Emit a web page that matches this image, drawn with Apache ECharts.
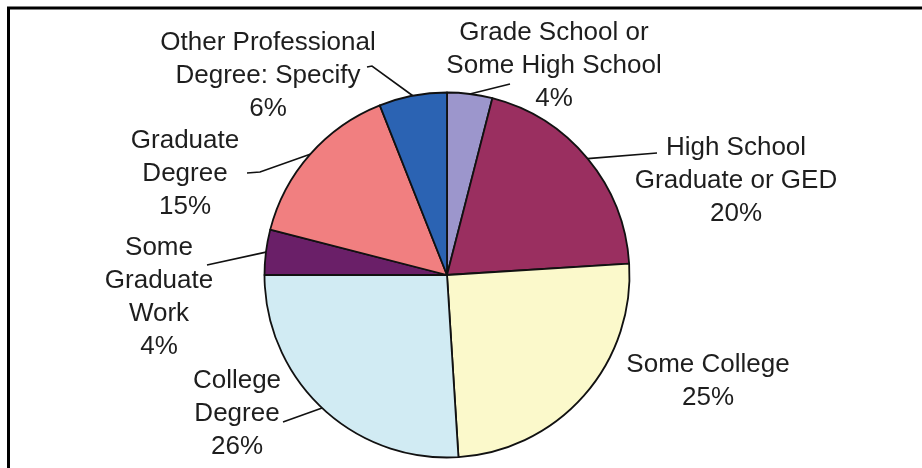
<!DOCTYPE html>
<html>
<head>
<meta charset="utf-8">
<script src="https://cdn.jsdelivr.net/npm/echarts@6/dist/echarts.min.js"></script>
<style>
  html, body { margin: 0; padding: 0; background: #ffffff; }
  #chart { width: 922px; height: 468px; }
</style>
</head>
<body>
<div id="chart"></div>
<script>
// Education level shares, clockwise from 12 o'clock
const categories = [
  'Grade School or\nSome High School',
  'High School\nGraduate or GED',
  'Some College',
  'College\nDegree',
  'Some\nGraduate\nWork',
  'Graduate\nDegree',
  'Other Professional\nDegree: Specify'
];
const shares = [4, 20, 25, 26, 4, 15, 6];

const sliceColors = ['#9c96cc', '#9a2f60', '#fbf9cb', '#d1ebf3', '#6a1f68', '#f17f80', '#2b63b3'];

// Label block centres (px) and the leader-line bends that lead to them
const labelCentres = [[554, 66], [736, 181], [708, 381], [237, 414], [159, 297], [185, 174], [268, 76]];
const leaderBends = [
  [[510, 84]],
  [[657, 153]],
  null,
  [[283, 422]],
  [[207, 265]],
  [[260, 172], [247, 173]],
  [[372, 66], [367, 67]]
];

const chart = echarts.init(document.getElementById('chart'), null, { renderer: 'canvas' });

chart.setOption({
  animation: false,
  backgroundColor: '#ffffff',
  graphic: [{
    type: 'polyline',
    shape: { points: [[8.5, 468], [8.5, 8], [922, 8]] },
    style: { stroke: '#000000', lineWidth: 3, fill: null },
    silent: true
  }],
  series: [{
    type: 'pie',
    center: [447, 275],
    radius: 182.5,
    startAngle: 90,
    clockwise: true,
    avoidLabelOverlap: false,
    silent: true,
    itemStyle: { borderColor: '#111111', borderWidth: 1.8 },
    label: {
      show: true,
      position: 'outside',
      formatter: p => p.name + '\n' + p.value + '%',
      fontFamily: 'Liberation Sans, Arial, sans-serif',
      fontSize: 26,
      lineHeight: 33,
      color: '#1e1e1e',
      align: 'center'
    },
    labelLine: {
      show: true,
      length: 10,
      length2: 10,
      lineStyle: { color: '#111111', width: 1.6 }
    },
    labelLayout: function (p) {
      const i = p.dataIndex;
      const c = labelCentres[i];
      const out = { x: c[0], y: c[1], align: 'center', verticalAlign: 'middle' };
      if (leaderBends[i] && p.labelLinePoints) {
        const start = [p.labelLinePoints[0][0], p.labelLinePoints[0][1]];
        out.labelLinePoints = [start].concat(leaderBends[i]);
      }
      return out;
    },
    data: categories.map((name, i) => ({
      name: name,
      value: shares[i],
      itemStyle: { color: sliceColors[i] },
      labelLine: { show: leaderBends[i] !== null }
    }))
  }]
});
</script>
</body>
</html>
